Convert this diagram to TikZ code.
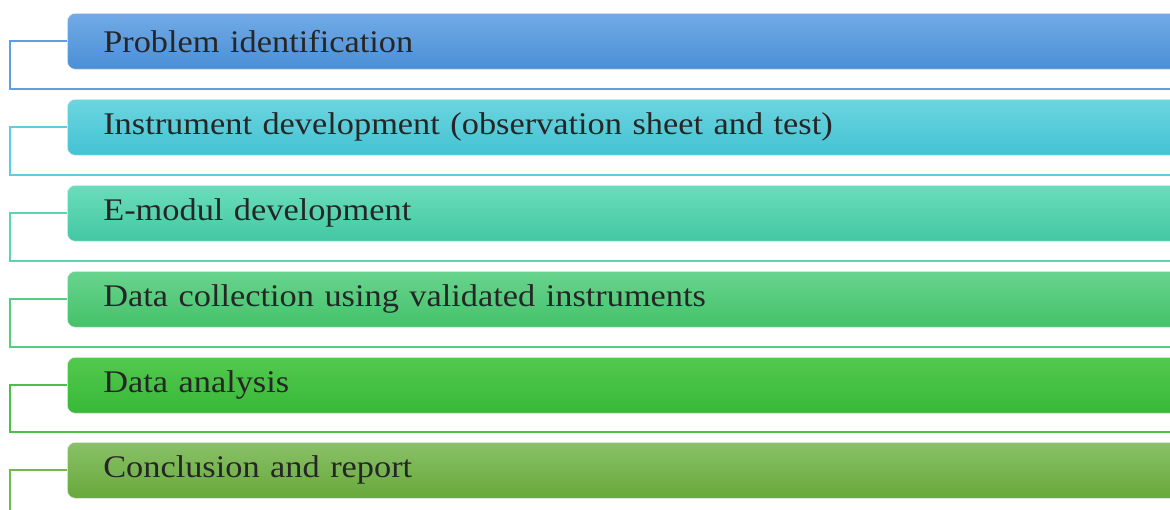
\documentclass[tikz,border=0pt]{standalone}
\usepackage{fontspec}
\setmainfont[FakeStretch=1.09]{Liberation Serif}
\definecolor{t1}{HTML}{72AAE6}\definecolor{b1}{HTML}{4A8FD5}\definecolor{l1}{HTML}{5E9FE2}
\definecolor{t2}{HTML}{6CD5E0}\definecolor{b2}{HTML}{44C2D3}\definecolor{l2}{HTML}{5CCEDC}
\definecolor{t3}{HTML}{6ADDBB}\definecolor{b3}{HTML}{43C8A3}\definecolor{l3}{HTML}{5AD5B0}
\definecolor{t4}{HTML}{68D48E}\definecolor{b4}{HTML}{45C16A}\definecolor{l4}{HTML}{58CC7E}
\definecolor{t5}{HTML}{52C94E}\definecolor{b5}{HTML}{38B838}\definecolor{l5}{HTML}{4BC247}
\definecolor{t6}{HTML}{89C168}\definecolor{b6}{HTML}{68A83B}\definecolor{l6}{HTML}{70BA4A}
\definecolor{txt}{HTML}{262626}
\tikzset{
  barbox/.style={rectangle, rounded corners=8pt, anchor=north west,
    minimum width=1113pt, minimum height=56pt, text width=1041pt,
    inner xsep=36pt, inner ysep=0pt, align=left, text=txt,
    font=\fontsize{31.5}{31.5}\selectfont, draw=white!85!gray, line width=0.6pt},
  link/.style={line width=2pt}
}
\begin{document}
\begin{tikzpicture}[x=1pt,y=-1pt]
\useasboundingbox (0,0) rectangle (1170,510);
\clip (0,0) rectangle (1170,510);
\foreach \i/\top/\lbl in {1/13/Problem identification,
  2/99/Instrument development (observation sheet and test),
  3/185/E-modul development,
  4/271/Data collection using validated instruments,
  5/357/Data analysis,
  6/442/Conclusion and report}{
  \node[barbox, top color=t\i, bottom color=b\i] (bar\i) at (67,\top) {\lbl};
}
\foreach \i/\y in {1/89,2/175,3/261,4/347,5/432}{
  \coordinate (c\i) at (10,\y);
  \coordinate (e\i) at (1172,\y);
  \draw[link, draw=l\i] (bar\i.west) -| (c\i) -- (e\i);
}
\coordinate (c6) at (10,520);
\draw[link, draw=l6] (bar6.west) -| (c6);
\end{tikzpicture}
\end{document}
